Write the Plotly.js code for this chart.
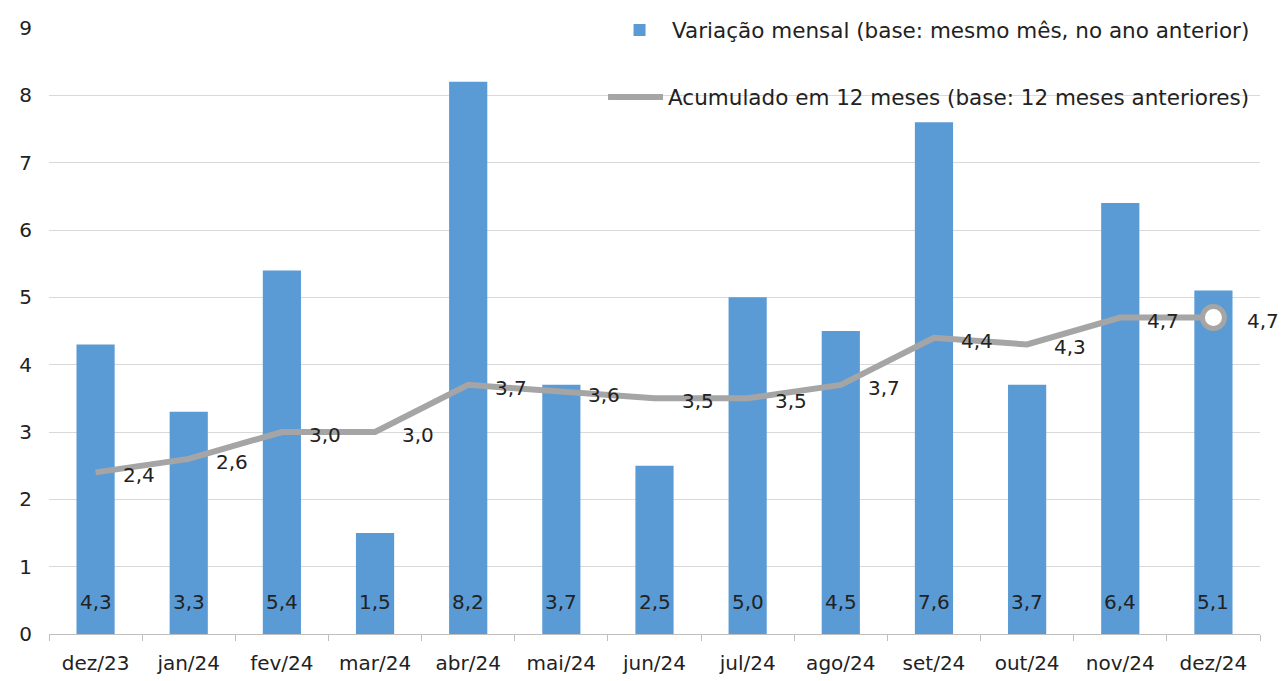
<!DOCTYPE html>
<html>
<head>
<meta charset="utf-8">
<script src="https://cdn.plot.ly/plotly-3.0.1.min.js"></script>
<style>html,body{margin:0;padding:0;background:#fff;}#chart{width:1286px;height:681px;}</style>
</head>
<body>
<div id="chart"></div>
<script>
const categories = ["dez/23","jan/24","fev/24","mar/24","abr/24","mai/24","jun/24","jul/24","ago/24","set/24","out/24","nov/24","dez/24"];
const monthlyValues = [4.3, 3.3, 5.4, 1.5, 8.2, 3.7, 2.5, 5.0, 4.5, 7.6, 3.7, 6.4, 5.1];
const accumValues = [2.4, 2.6, 3.0, 3.0, 3.7, 3.6, 3.5, 3.5, 3.7, 4.4, 4.3, 4.7, 4.7];
const yTickValues = [0,1,2,3,4,5,6,7,8,9];
const seriesNames = ["Variação mensal (base: mesmo mês, no ano anterior)", "Acumulado em 12 meses (base: 12 meses anteriores)"];

const FONT = "DejaVu Sans, Verdana, sans-serif";
const fmt = v => v.toFixed(1).replace('.', ',');
const last = categories.length - 1;

const traces = [
  {
    type: 'bar', x: categories, y: monthlyValues, name: seriesNames[0],
    marker: {color: '#5b9bd5'}, width: 0.41, hoverinfo: 'skip', legend: 'legend'
  },
  {
    type: 'scatter', mode: 'lines', x: categories, y: accumValues, name: seriesNames[1],
    line: {color: '#a5a5a5', width: 6}, hoverinfo: 'skip', legend: 'legend2'
  },
  {
    type: 'scatter', mode: 'markers', x: [categories[last]], y: [accumValues[last]],
    marker: {size: 22, color: '#ffffff', line: {color: '#a5a5a5', width: 5}},
    showlegend: false, hoverinfo: 'skip', cliponaxis: false
  }
];

const annotations = [];
categories.forEach((c, i) => {
  annotations.push({
    x: c, y: 0, xref: 'x', yref: 'y', text: fmt(monthlyValues[i]), showarrow: false,
    yanchor: 'middle', yshift: 32, font: {family: FONT, size: 20, color: '#222'}
  });
  annotations.push({
    x: c, y: accumValues[i], xref: 'x', yref: 'y', text: fmt(accumValues[i]), showarrow: false,
    xanchor: 'left', yanchor: 'middle', xshift: i === last ? 32 : 25, yshift: -3,
    font: {family: FONT, size: 20, color: '#222'}
  });
});

const layout = {
  width: 1286, height: 681,
  margin: {l: 49, r: 26, t: 28, b: 47, autoexpand: false},
  paper_bgcolor: '#ffffff', plot_bgcolor: '#ffffff',
  font: {family: FONT, size: 20, color: '#222'},
  xaxis: {
    type: 'category', range: [-0.5, categories.length - 0.5], autorange: false,
    showgrid: false, showline: true, linecolor: '#bfbfbf', linewidth: 1,
    ticks: 'outside', tickson: 'boundaries', ticklen: 6, tickcolor: '#bfbfbf',
    tickfont: {family: FONT, size: 20, color: '#222'}, ticklabelstandoff: 11,
    fixedrange: true
  },
  yaxis: {
    range: [0, 9], autorange: false, tickvals: yTickValues, ticktext: yTickValues.map(String),
    showgrid: true, gridcolor: '#d9d9d9', gridwidth: 1, zeroline: false, showline: false,
    tickfont: {family: FONT, size: 20, color: '#222'}, ticklabelstandoff: 16,
    fixedrange: true
  },
  legend: {
    x: 0.9959, xanchor: 'right', y: 0.9967, yanchor: 'middle',
    bgcolor: 'rgba(0,0,0,0)', font: {family: FONT, size: 21.5, color: '#222'}, itemwidth: 55
  },
  legend2: {
    x: 0.9959, xanchor: 'right', y: 0.886, yanchor: 'middle',
    bgcolor: 'rgba(0,0,0,0)', font: {family: FONT, size: 21.5, color: '#222'}, itemwidth: 55
  },
  annotations: annotations,
  showlegend: true
};

Plotly.newPlot('chart', traces, layout, {displayModeBar: false, staticPlot: true});
</script>
</body>
</html>
